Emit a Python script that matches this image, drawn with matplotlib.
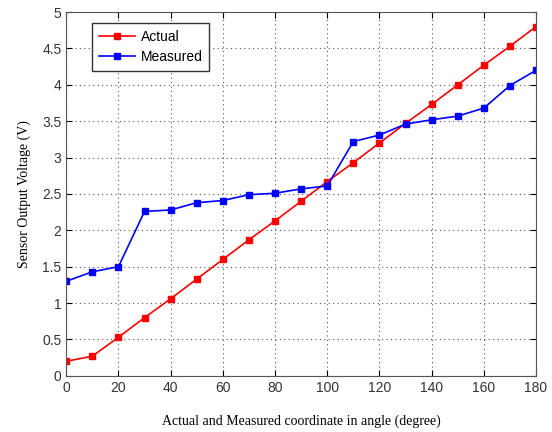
import matplotlib
matplotlib.use("Agg")
import matplotlib.pyplot as plt

# angle (degree)
angles = [0, 10, 20, 30, 40, 50, 60, 70, 80, 90, 100, 110, 120, 130, 140, 150, 160, 170, 180]
actual = [0.20, 0.27, 0.53, 0.80, 1.06, 1.33, 1.60, 1.87, 2.13, 2.40, 2.67, 2.93, 3.20, 3.47,
          3.73, 4.00, 4.27, 4.53, 4.80]
measured = [1.30, 1.43, 1.50, 2.26, 2.28, 2.38, 2.41, 2.49, 2.51, 2.57, 2.61, 3.22, 3.31, 3.46,
            3.52, 3.57, 3.68, 3.99, 4.20]

xticks = list(range(0, 181, 20))
yticks = [0, 0.5, 1, 1.5, 2, 2.5, 3, 3.5, 4, 4.5, 5]
ytick_labels = ["0", "0.5", "1", "1.5", "2", "2.5", "3", "3.5", "4", "4.5", "5"]

fig = plt.figure(figsize=(5.52, 4.32), dpi=100)
ax = fig.add_axes([0.12, 0.13, 0.851, 0.842])

ax.plot(angles, actual, color="red", marker="s", markersize=4, linewidth=1.2, label="Actual")
ax.plot(angles, measured, color="blue", marker="s", markersize=4, linewidth=1.2, label="Measured")

ax.set_xlim(0, 180)
ax.set_ylim(0, 5)
ax.set_xticks(xticks)
ax.set_yticks(yticks)
ax.set_yticklabels(ytick_labels)
ax.tick_params(direction="in", top=True, right=True, labelsize=10, length=4)
for lab in ax.get_xticklabels() + ax.get_yticklabels():
    lab.set_family("Liberation Sans")
    lab.set_color("#333333")

ax.grid(True, linestyle=(0, (1, 3)), color="#555555", linewidth=0.8)
for s in ax.spines.values():
    s.set_color("#555555")

ax.set_xlabel("Actual and Measured coordinate in angle (degree)", family="Liberation Serif",
              fontsize=10, labelpad=14)
ax.set_ylabel("Sensor Output Voltage (V)", family="Liberation Serif", fontsize=10, labelpad=8)

leg = ax.legend(loc="upper left", bbox_to_anchor=(0.04, 0.988), fancybox=False,
                prop={"family": "Liberation Sans", "size": 10}, handlelength=2.6,
                borderpad=0.5, labelspacing=0.4, handletextpad=0.4, framealpha=1)
leg.get_frame().set_edgecolor("#333333")

fig.savefig("out.png", dpi=100)
